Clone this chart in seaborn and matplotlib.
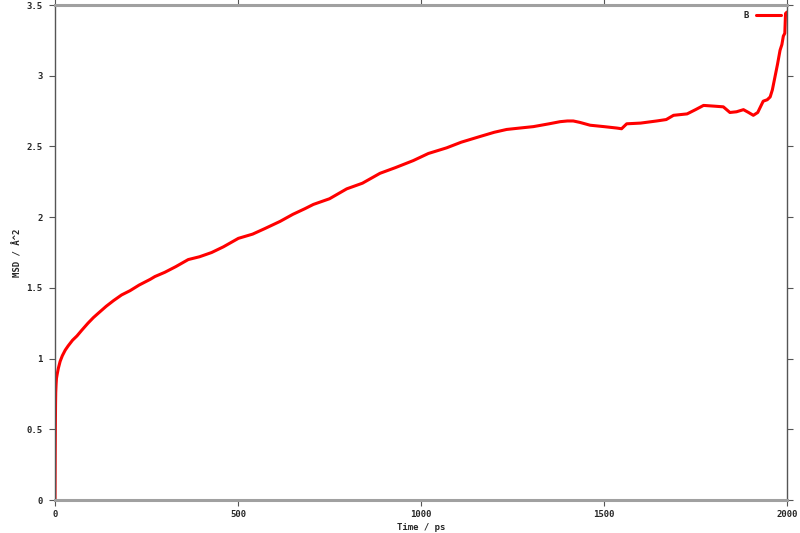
import matplotlib
matplotlib.use("Agg")
import matplotlib.pyplot as plt
import seaborn as sns
import pandas as pd

time_ps = [0, 0.5, 1, 1.5, 2, 3, 4, 6, 9, 14, 20, 28, 36, 48, 60, 73, 90, 105, 118, 140, 160, 182,
           205, 230, 260, 273, 300, 330, 364, 395, 428, 460, 501, 540, 574, 615, 650, 683, 706,
           750, 797, 840, 888, 930, 979, 1020, 1070, 1110, 1161, 1200, 1234, 1270, 1307, 1350,
           1380, 1400, 1416, 1434, 1462, 1500, 1535, 1548, 1562, 1600, 1644, 1670, 1690, 1727,
           1750, 1772, 1800, 1826, 1844, 1862, 1881, 1895, 1908, 1920, 1935, 1946, 1954, 1960,
           1967, 1974, 1981, 1986, 1990, 1994, 1996, 2000]
msd = [0.0, 0.32, 0.52, 0.68, 0.76, 0.82, 0.86, 0.89, 0.93, 0.98, 1.02, 1.06, 1.09, 1.13, 1.16, 1.20,
       1.25, 1.29, 1.32, 1.37, 1.41, 1.45, 1.48, 1.52, 1.56, 1.58, 1.61, 1.65, 1.70, 1.72, 1.75,
       1.79, 1.85, 1.88, 1.92, 1.97, 2.02, 2.06, 2.09, 2.13, 2.20, 2.24, 2.31, 2.35, 2.40, 2.45,
       2.49, 2.53, 2.57, 2.60, 2.62, 2.63, 2.64, 2.66, 2.675, 2.68, 2.68, 2.67, 2.65, 2.64, 2.63,
       2.625, 2.66, 2.665, 2.68, 2.69, 2.72, 2.73, 2.76, 2.79, 2.785, 2.78, 2.74, 2.745, 2.76,
       2.74, 2.72, 2.74, 2.82, 2.83, 2.85, 2.90, 2.99, 3.08, 3.18, 3.22, 3.28, 3.30, 3.44, 3.45]

x_ticks = [0, 500, 1000, 1500, 2000]
y_ticks = [0, 0.5, 1, 1.5, 2, 2.5, 3, 3.5]
y_tick_labels = ["0", "0.5", "1", "1.5", "2", "2.5", "3", "3.5"]

df = pd.DataFrame({"Time": time_ps, "MSD": msd})

sns.set_theme(style="white")
plt.rcParams["font.family"] = ["DejaVu Sans Mono", "DejaVu Sans"]
plt.rcParams["font.weight"] = "bold"

fig = plt.figure(figsize=(8, 5.33), dpi=100)
ax = fig.add_axes([55 / 800, 1 - 500 / 533, (787 - 55) / 800, (500 - 5) / 533])

sns.lineplot(data=df, x="Time", y="MSD", ax=ax, color="#ff0000", linewidth=2.2, label="B")

ax.set_xlim(0, 2000)
ax.set_ylim(0, 3.5)
ax.set_xticks(x_ticks)
ax.set_xticklabels([str(v) for v in x_ticks])
ax.set_yticks(y_ticks)
ax.set_yticklabels(y_tick_labels)

ax.tick_params(axis="both", which="both", labelsize=6.5, length=4, width=0.8,
               color="#555555", direction="out", pad=3)
ax.tick_params(axis="y", right=True, left=True, pad=5)
ax.tick_params(axis="x", top=True, bottom=True)
for lbl in ax.get_xticklabels() + ax.get_yticklabels():
    lbl.set_fontweight("bold")

ax.set_xlabel("Time / ps", fontsize=6.5, fontweight="bold")
ax.set_ylabel("MSD / Å^2", fontsize=6.5, fontweight="bold")
ax.xaxis.set_label_coords(0.5, (500 - 527) / 495)
ax.yaxis.set_label_coords((18 - 55) / 732, 0.5)
ax.xaxis.label.set_va("center")
ax.yaxis.label.set_va("center")

for side in ["top", "bottom"]:
    ax.spines[side].set_color("#a0a0a0")
    ax.spines[side].set_linewidth(2.2)
for side in ["left", "right"]:
    ax.spines[side].set_color("#555555")
    ax.spines[side].set_linewidth(1.0)
    ax.spines[side].set_visible(True)

leg = ax.legend(loc="upper right", frameon=False, markerfirst=False, fontsize=6.5,
                handlelength=2.7, borderaxespad=0.3, handletextpad=0.8)
for t in leg.get_texts():
    t.set_fontweight("bold")

fig.savefig("out.png", dpi=100)
